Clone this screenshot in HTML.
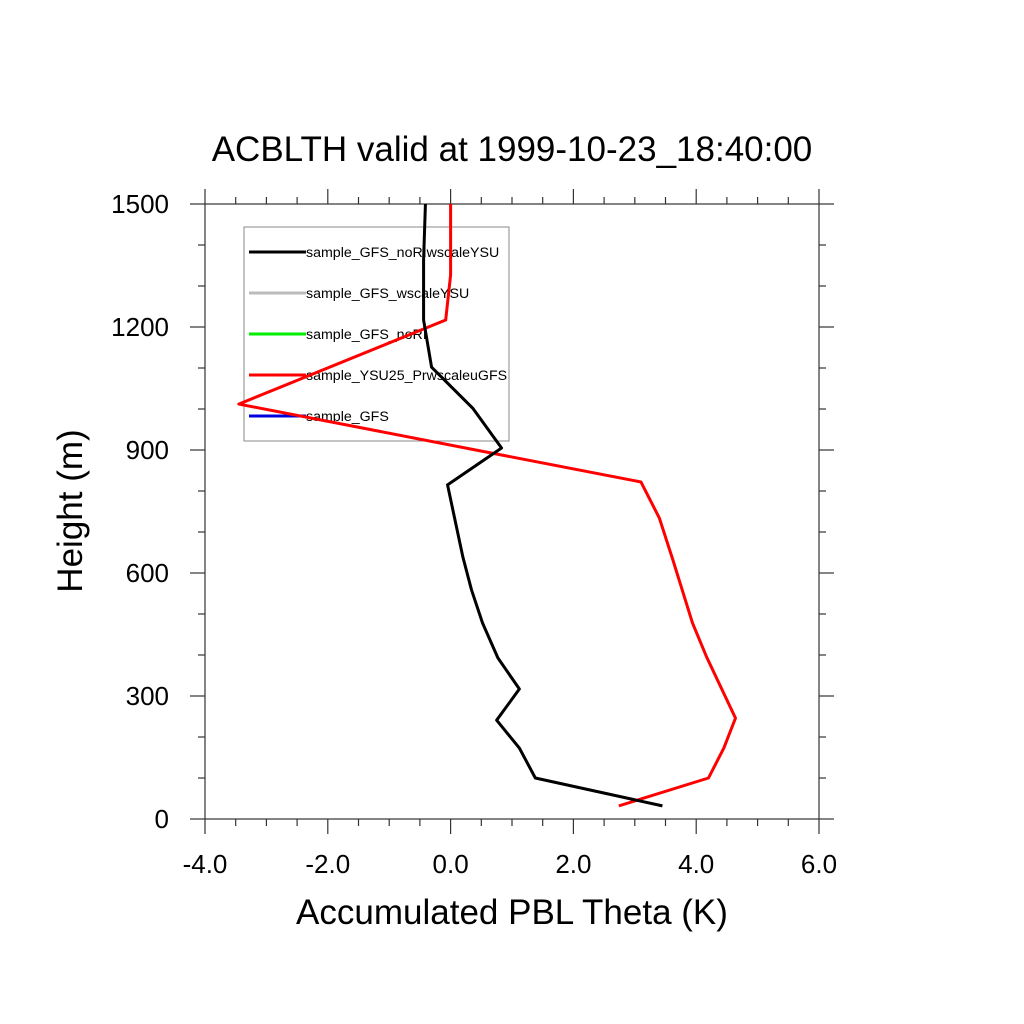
<!DOCTYPE html>
<html><head><meta charset="utf-8"><style>body{margin:0;background:#fff}svg{display:block}text{font-family:"Liberation Sans",sans-serif}</style></head>
<body>
<svg id="c" width="1024" height="1024" xmlns="http://www.w3.org/2000/svg"></svg>
<script>
const xTicks=[-4,-2,0,2,4,6];
const xTickLabels=["-4.0","-2.0","0.0","2.0","4.0","6.0"];
const yTicks=[0,300,600,900,1200,1500];
const yTickLabels=["0","300","600","900","1200","1500"];
const blackX=[-0.41,-0.44,-0.44,-0.31,0.36,0.83,-0.05,0.2,0.34,0.52,0.77,1.12,0.75,1.12,1.38,3.45];
const blackY=[1500,1363,1217,1102,1002,905,815,639,559,478,393,317,241,173,100,32];
const redX=[0,0,-0.08,-3.45,3.10,3.40,3.62,3.94,4.17,4.64,4.45,4.20,2.74];
const redY=[1500,1327,1217,1012,822,734,632,478,395,246,173,100,32];
const legendNames=["sample_GFS_noRIwscaleYSU","sample_GFS_wscaleYSU","sample_GFS_noRI","sample_YSU25_PrwscaleuGFS","sample_GFS"];
const legendColors=["#000","#bbb","#00ee00","#f00","#0000dd"];
const L=205,R=819,T=204,B=819;
const sx=v=>L+(v+4)/10*(R-L), sy=v=>B-v/1500*(B-T);
const svg=document.getElementById('c');const NS="http://www.w3.org/2000/svg";
function el(t,a,p){const e=document.createElementNS(NS,t);for(const k in a)e.setAttribute(k,a[k]);(p||svg).appendChild(e);return e;}
let e;
e=el('rect',{x:L,y:T,width:R-L,height:B-T,fill:'none',stroke:'#333','stroke-width':1.2});

const tg=el('g',{stroke:'#333','stroke-width':1.2});

for(let v=-4;v<=6.001;v+=0.5){const x=sx(v);const len=(Math.abs(v%2)<1e-6)?15:7;
el('line',{x1:x,y1:B,x2:x,y2:B+len},tg);el('line',{x1:x,y1:T,x2:x,y2:T-len},tg);}
for(let v=0;v<=1500;v+=100){const y=sy(v);const len=(v%300===0)?15:7;
el('line',{x1:L,y1:y,x2:L-len,y2:y},tg);el('line',{x1:R,y1:y,x2:R+len,y2:y},tg);}
xTicks.forEach((v,i)=>{e=el('text',{x:sx(v),y:873,'font-size':26,'text-anchor':'middle'});e.textContent=xTickLabels[i];
});
yTicks.forEach((v,i)=>{e=el('text',{x:169,y:sy(v)+9,'font-size':26,'text-anchor':'end'});e.textContent=yTickLabels[i];
});
e=el('text',{x:512,y:161,'font-size':35,'text-anchor':'middle'});e.textContent="ACBLTH valid at 1999-10-23_18:40:00";

e=el('text',{x:512,y:924,'font-size':35,'text-anchor':'middle'});e.textContent="Accumulated PBL Theta (K)";

e=el('text',{x:0,y:0,'font-size':35,'text-anchor':'middle',transform:'translate(82,511) rotate(-90)'});e.textContent="Height (m)";

const lg=el('g',{});
el('rect',{x:244,y:227,width:265,height:214,fill:'none',stroke:'#888','stroke-width':1},lg);
legendNames.forEach((n,i)=>{const y=252+i*41;
const g=el('g',{},lg);
el('line',{x1:249,y1:y,x2:306,y2:y,stroke:legendColors[i],'stroke-width':3},g);
const t=el('text',{x:306,y:y+5,'font-size':14.2},g);t.textContent=n;});
function line(xs,ys,c,name){const p=xs.map((x,i)=>sx(x)+','+sy(ys[i])).join(' ');
const l=el('polyline',{points:p,fill:'none',stroke:c,'stroke-width':3,'stroke-linejoin':'round'});
}
line(redX,redY,'#f00','series-ysu25-prwscaleugfs');
line(blackX,blackY,'#000','series-gfs-nori-wscaleysu');
</script>
</body></html>
